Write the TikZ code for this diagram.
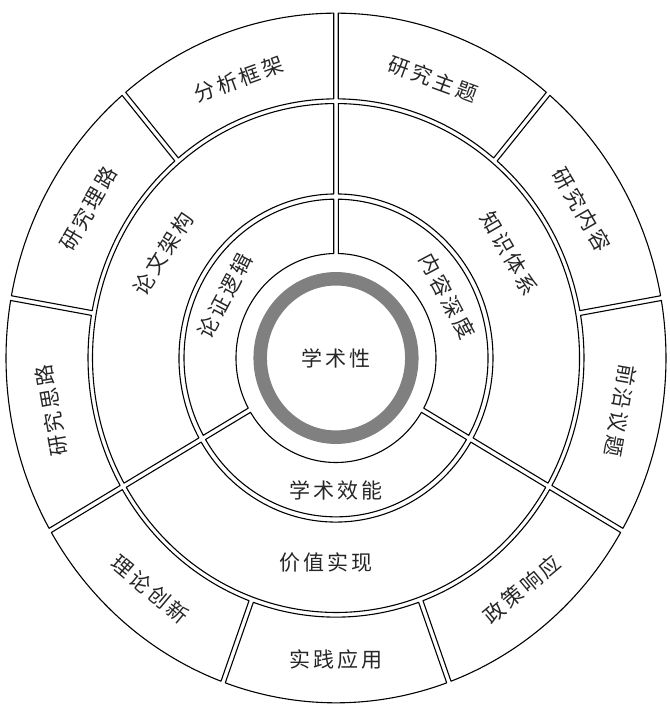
\documentclass[tikz,border=0pt]{standalone}
\usepackage{fontspec}
\newfontfamily\cjk{Noto Sans CJK SC}[LetterSpace=14]
\def\segd{2.3}
\newcommand\ringseg[4]{%
  \pgfmathsetmacro\aIa{#1+asin(\segd/#3)}%
  \pgfmathsetmacro\aIb{#2-asin(\segd/#3)}%
  \pgfmathsetmacro\aOa{#1+asin(\segd/#4)}%
  \pgfmathsetmacro\aOb{#2-asin(\segd/#4)}%
  \draw[segline] (\aIa:#3) -- (\aOa:#4) arc[start angle=\aOa, end angle=\aOb, radius=#4] -- (\aIb:#3) arc[start angle=\aIb, end angle=\aIa, radius=#3] -- cycle;%
}
\tikzset{
  segline/.style={draw=black, line width=1.1pt, line join=round},
  lbl/.style={font=\cjk\fontsize{21pt}{21pt}\selectfont, text=black!85, inner sep=0pt},
}
\begin{document}
\begin{tikzpicture}
\useasboundingbox (-336pt,-353pt) rectangle (333pt,358pt);
\begin{scope}[x=1pt, y=1.045pt]
% inner ring
\ringseg{90}{210}{100}{152}
\ringseg{-30}{90}{100}{152}
\ringseg{210}{330}{100}{152}
% middle ring
\ringseg{90}{210}{157}{243.5}
\ringseg{-30}{90}{157}{243.5}
\ringseg{210}{330}{157}{243.5}
% outer ring
\ringseg{90}{130}{248}{330}
\ringseg{130}{170}{248}{330}
\ringseg{170}{210}{248}{330}
\ringseg{210}{250}{248}{330}
\ringseg{250}{290}{248}{330}
\ringseg{290}{330}{248}{330}
\ringseg{330}{370}{248}{330}
\ringseg{10}{50}{248}{330}
\ringseg{50}{90}{248}{330}
% centre
\draw[draw=black!50, line width=13.5pt] (0,0) circle[radius=75.8];
\node[lbl] (c) at (0,0) {学术性};
% inner labels
\node[lbl, rotate=62] (i1) at (152:126) {论证逻辑};
\node[lbl, rotate=-62] (i2) at (28:126) {内容深度};
\node[lbl] (i3) at (270:127) {学术效能};
% middle labels
\node[lbl, rotate=58] (m1) at (150:200) {论文架构};
\node[lbl, rotate=-60] (m2) at (30:200) {知识体系};
\node[lbl] (m3) at (267:196) {价值实现};
% outer labels
\node[lbl, rotate=20] (o1) at (110:284) {分析框架};
\node[lbl, rotate=60] (o2) at (150:286) {研究理路};
\node[lbl, rotate=100] (o3) at (190:289) {研究思路};
\node[lbl, rotate=-40] (o4) at (230:289) {理论创新};
\node[lbl] (o5) at (270:289) {实践应用};
\node[lbl, rotate=40] (o6) at (310:289) {政策响应};
\node[lbl, rotate=-100] (o7) at (350:289) {前沿议题};
\node[lbl, rotate=-60] (o8) at (30:284) {研究内容};
\node[lbl, rotate=-20] (o9) at (70:284) {研究主题};
\end{scope}
\end{tikzpicture}
\end{document}
